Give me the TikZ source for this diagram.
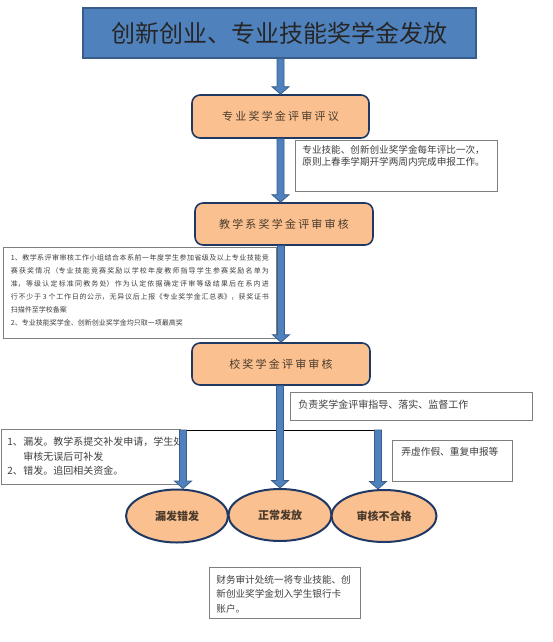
\documentclass[tikz,border=0pt]{standalone}
\usepackage{fontspec}
\newfontfamily\cjk{Noto Sans CJK SC}
\newfontfamily\cjkwide{Noto Sans CJK SC}[LetterSpace=20]
\usetikzlibrary{shapes.geometric,calc}
\XeTeXlinebreaklocale "zh"
\XeTeXlinebreakskip=0pt plus 2pt

\definecolor{titleblue}{HTML}{4F81BD}
\definecolor{titleline}{HTML}{385D8A}
\definecolor{orangefill}{HTML}{FAC090}
\definecolor{navy}{HTML}{1F3864}
\definecolor{stagetext}{HTML}{4A3B2C}
\definecolor{notegray}{HTML}{7F7F7F}
\definecolor{notetext}{HTML}{3F3F3F}

% thick block arrow straight down: x from #1, tip at the y of #2
\newcommand{\fatdown}[2]{%
  \draw[fatarr] let \p1=(#1), \p2=(#2) in
    (\x1-3.5pt,\y1) -- (\x1-3.5pt,\y2+7.5pt) -- (\x1-8.5pt,\y2+7.5pt) -- (\x1,\y2)
    -- (\x1+8.5pt,\y2+7.5pt) -- (\x1+3.5pt,\y2+7.5pt) -- (\x1+3.5pt,\y1) -- cycle;}
\newcommand{\notepar}[3]{\parbox[t][#2][t]{#1}{#3}}

\begin{document}
\begin{tikzpicture}[x=1pt, y=-1pt, font=\cjk,
  titlebox/.style={draw=titleline, line width=1.5pt, fill=titleblue, minimum width=393pt,
    minimum height=50pt, text=black!85, font=\cjk\fontsize{24}{28}\selectfont},
  stage/.style={draw=navy, line width=1.6pt, fill=orangefill, rounded corners=8pt,
    minimum width=177pt, minimum height=43pt, text=stagetext, font=\cjkwide\fontsize{11}{13}\selectfont},
  result/.style={ellipse, draw=navy, line width=2pt, fill=orangefill, inner sep=0pt,
    text=stagetext, font=\cjk\bfseries\fontsize{11}{13}\selectfont},
  note/.style={draw=notegray, line width=0.8pt, fill=white, text=notetext,
    inner xsep=7pt, inner ysep=5pt, anchor=north west},
  fatarr/.style={draw=titleline, line width=0.8pt, fill=titleblue}]
  \useasboundingbox (0,0) rectangle (552,642);

  % main stages
  \node[titlebox] (title) at (279.5,33) {创新创业、专业技能奖学金发放};
  \node[stage] (prof) at (280.5,116.5) {专业奖学金评审评议};
  \node[stage, minimum width=178pt, minimum height=42pt] (dept) at (284,224) {教学系奖学金评审审核};
  \node[stage, minimum width=178pt, minimum height=42pt] (school) at (281,364) {校奖学金评审审核};

  % results
  \node[result, minimum width=102pt, minimum height=53pt] (miss) at (177,516) {漏发错发};
  \node[result, minimum width=103pt, minimum height=52pt] (normal) at (280,515) {正常发放};
  \node[result, minimum width=105pt, minimum height=52pt] (fail) at (384,516) {审核不合格};

  % side notes
  \node[note, font=\cjk\fontsize{9.6}{12.3}\selectfont] (nprof) at (295,140)
    {\notepar{188pt}{41pt}{专业技能、创新创业奖学金每年评比一次，\\原则上春季学期开学两周内完成申报工作。}};
  \node[note, inner xsep=7.5pt, inner ysep=7.5pt, font=\cjk\fontsize{7}{12.9}\selectfont] (ndept) at (3,247)
    {\notepar{258pt}{76pt}{1、教学系评审审核工作小组结合本系前一年度学生参加省级及以上专业技能竞\linebreak
     赛获奖情况（专业技能竞赛奖励以学校年度教师指导学生参赛奖励名单为\linebreak
     准，等级认定标准同教务处）作为认定依据确定评审等级结果后在系内进\linebreak
     行不少于 3 个工作日的公示，无异议后上报《专业奖学金汇总表》，获奖证书\linebreak
     扫描件至学校备案\par
     2、专业技能奖学金、创新创业奖学金均只取一项最高奖}};
  \node[note, inner xsep=8pt, inner ysep=7.5pt, font=\cjk\fontsize{10}{12}\selectfont] (nschool) at (290,392)
    {\notepar{226pt}{13pt}{负责奖学金评审指导、落实、监督工作}};
  \node[note, inner xsep=9pt, inner ysep=7pt, font=\cjk\fontsize{9.7}{12}\selectfont] (nfail) at (392,440)
    {\notepar{102pt}{27pt}{弄虚作假、重复申报等}};
  \node[note, inner xsep=6pt, inner ysep=8pt, font=\cjk\fontsize{10}{14.5}\selectfont] (nmiss) at (1,429)
    {\notepar{167pt}{39pt}{\mbox{\makebox[16pt][l]{1、}漏发。教学系提交补发申请，学生处}\\
     \hspace*{16pt}审核无误后可补发\\
     \makebox[16pt][l]{2、}错发。追回相关资金。}};
  \node[note, inner ysep=7.5pt, font=\cjk\fontsize{9.6}{14.5}\selectfont] (nbank) at (209,567)
    {\notepar{137pt}{36pt}{财务审计处统一将专业技能、创\\新创业奖学金划入学生银行卡\\账户。}};

  % branch line
  \coordinate (bl) at (183,430);
  \coordinate (br) at (378,430);
  \draw[line width=0.8pt] (bl) -- (br);

  % arrows
  \fatdown{title.south -| prof.north}{prof.north}
  \fatdown{prof.south}{dept.north}
  \fatdown{dept.south -| school.north}{school.north}
  \fatdown{school.south -| normal.north}{normal.north}
  \fatdown{bl}{miss.north}
  \fatdown{br}{fail.north}
\end{tikzpicture}
\end{document}
